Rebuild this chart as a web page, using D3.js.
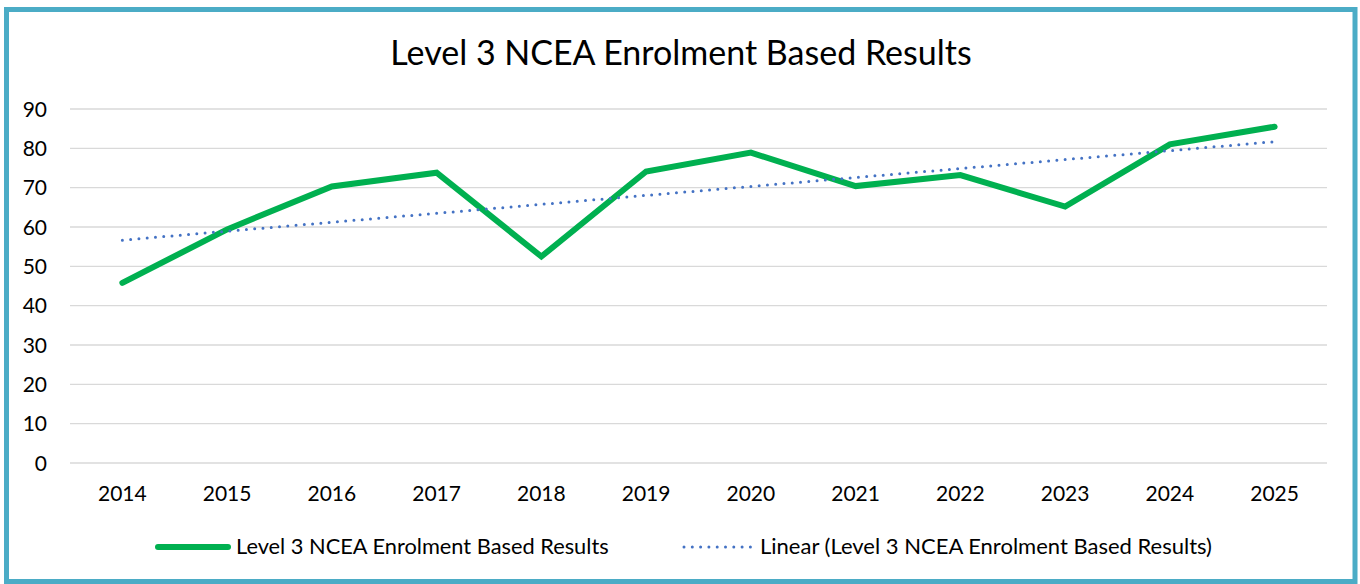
<!DOCTYPE html>
<html lang="en">
<head>
<meta charset="UTF-8" />
<script src="https://d3js.org/d3.v7.min.js"></script>
<title>Level 3 NCEA</title>
<style>
  body { margin: 0; background: #fff; }
  text { font-family: Lato, "Open Sans", sans-serif; fill: #000; }
</style>
</head>
<body>
<svg id="chart" width="1360" height="584"></svg>
<script>
const years = ['2014','2015','2016','2017','2018','2019','2020','2021','2022','2023','2024','2025'];
const results = [45.8, 59.4, 70.3, 73.8, 52.5, 74.1, 78.9, 70.4, 73.2, 65.2, 81.0, 85.5];
const yTicks = [0, 10, 20, 30, 40, 50, 60, 70, 80, 90];
const title = 'Level 3 NCEA Enrolment Based Results';
const seriesName = 'Level 3 NCEA Enrolment Based Results';
const trendName = 'Linear (Level 3 NCEA Enrolment Based Results)';

const svg = d3.select('#chart');

// frame
svg.append('rect')
  .attr('x', 6.5).attr('y', 9.5)
  .attr('width', 1348.5).attr('height', 572)
  .attr('fill', '#fff')
  .attr('stroke', '#4BACC6')
  .attr('stroke-width', 5);

const margin = { left: 70, right: 1327, top: 109, bottom: 463 };

const x = d3.scaleBand().domain(years).range([margin.left, margin.right]);
const y = d3.scaleLinear().domain([0, 90]).range([margin.bottom, margin.top]);
const cx = d => x(d) + x.bandwidth() / 2;

// gridlines
svg.append('g').selectAll('line').data(yTicks).enter().append('line')
  .attr('x1', margin.left).attr('x2', margin.right)
  .attr('y1', d => y(d)).attr('y2', d => y(d))
  .attr('stroke', '#D9D9D9').attr('stroke-width', 1.4);

// y tick labels
svg.append('g').selectAll('text').data(yTicks).enter().append('text')
  .attr('x', 47).attr('y', d => y(d))
  .attr('dy', '0.36em')
  .attr('text-anchor', 'end')
  .style('font-size', '21px')
  .text(d => d);

// x tick labels
svg.append('g').selectAll('text').data(years).enter().append('text')
  .attr('x', d => cx(d)).attr('y', 501)
  .attr('text-anchor', 'middle')
  .style('font-size', '21px')
  .text(d => d);

// linear trend (least squares over the series)
const idx = results.map((_, i) => i);
const mx = d3.mean(idx), my = d3.mean(results);
const slope = d3.sum(idx, i => (i - mx) * (results[i] - my)) / d3.sum(idx, i => (i - mx) ** 2);
const icpt = my - slope * mx;
const trend = [
  { year: years[0], v: icpt },
  { year: years[years.length - 1], v: icpt + slope * (years.length - 1) }
];

const line = d3.line().x(d => cx(d.year)).y(d => y(d.v));

svg.append('path')
  .datum(years.map((yr, i) => ({ year: yr, v: results[i] })))
  .attr('d', line)
  .attr('fill', 'none')
  .attr('stroke', '#00B050')
  .attr('stroke-width', 6)
  .attr('stroke-linejoin', 'miter')
  .attr('stroke-linecap', 'round');

svg.append('path')
  .datum(trend)
  .attr('d', line)
  .attr('fill', 'none')
  .attr('stroke', '#4472C4')
  .attr('stroke-width', 3)
  .attr('stroke-dasharray', '0 8.3')
  .attr('stroke-linecap', 'round');

// title
svg.append('text')
  .attr('x', 681).attr('y', 65)
  .attr('text-anchor', 'middle')
  .style('font-size', '34px')
  .text(title);

// legend
const lg = svg.append('g');
lg.append('line')
  .attr('x1', 158).attr('x2', 228).attr('y1', 547).attr('y2', 547)
  .attr('stroke', '#00B050').attr('stroke-width', 6).attr('stroke-linecap', 'round');
lg.append('text').attr('x', 236).attr('y', 554).style('font-size', '21.8px').text(seriesName);

lg.append('line')
  .attr('x1', 684).attr('x2', 752).attr('y1', 547).attr('y2', 547)
  .attr('stroke', '#4472C4').attr('stroke-width', 3)
  .attr('stroke-dasharray', '0 8.3').attr('stroke-linecap', 'round');
lg.append('text').attr('x', 760).attr('y', 554).style('font-size', '22px').text(trendName);
</script>
</body>
</html>
